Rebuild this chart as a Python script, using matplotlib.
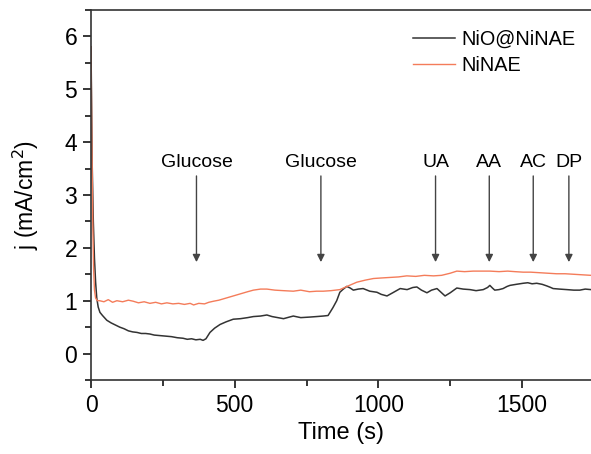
import matplotlib
matplotlib.use("Agg")
import matplotlib.pyplot as plt
from matplotlib.ticker import MultipleLocator

plt.rcParams['font.family'] = ['Liberation Sans', 'DejaVu Sans']

# amperometric response, NiO@NiNAE electrode
t_nio = [0, 4, 8, 12, 16, 20, 25, 31, 40, 55, 70, 85, 100, 115, 130, 145, 160, 175,
         190, 205, 220, 240, 260, 280, 300, 320, 335, 350, 365, 380, 390, 400, 414,
         430, 449, 470, 495, 520, 545, 565, 590, 612, 630, 650, 670, 690, 704, 730,
         760, 785, 808, 825, 842, 855, 866, 878, 890, 902, 913, 930, 947, 970, 995,
         1010, 1030, 1050, 1076, 1100, 1120, 1134, 1150, 1169, 1185, 1204, 1220,
         1232, 1250, 1273, 1295, 1319, 1340, 1365, 1380, 1388, 1397, 1405, 1420,
         1434, 1448, 1458, 1480, 1504, 1520, 1535, 1551, 1570, 1586, 1600, 1608,
         1630, 1656, 1680, 1701, 1720, 1740]
j_nio = [5.8, 3.6, 2.5, 1.8, 1.35, 1.05, 0.88, 0.78, 0.72, 0.63, 0.58, 0.54, 0.50,
         0.47, 0.43, 0.41, 0.40, 0.38, 0.38, 0.37, 0.35, 0.34, 0.33, 0.32, 0.30,
         0.29, 0.27, 0.28, 0.26, 0.27, 0.25, 0.28, 0.40, 0.48, 0.55, 0.60, 0.65,
         0.66, 0.68, 0.70, 0.71, 0.73, 0.70, 0.68, 0.66, 0.69, 0.71, 0.68, 0.69,
         0.70, 0.71, 0.72, 0.87, 1.00, 1.16, 1.22, 1.27, 1.24, 1.20, 1.22, 1.23,
         1.18, 1.16, 1.12, 1.09, 1.15, 1.23, 1.21, 1.25, 1.26, 1.20, 1.15, 1.20,
         1.23, 1.15, 1.09, 1.15, 1.24, 1.22, 1.21, 1.19, 1.21, 1.25, 1.29, 1.24,
         1.20, 1.21, 1.23, 1.27, 1.29, 1.31, 1.33, 1.34, 1.32, 1.33, 1.31, 1.28,
         1.25, 1.23, 1.22, 1.21, 1.20, 1.20, 1.22, 1.21]

# amperometric response, bare NiNAE electrode
t_ni = [0, 3, 6, 9, 12, 16, 22, 30, 45, 60, 75, 90, 110, 130, 147, 165, 185, 205,
        225, 245, 264, 285, 305, 325, 345, 357, 375, 395, 410, 426, 445, 470, 495,
        520, 545, 565, 590, 612, 640, 670, 704, 730, 760, 785, 808, 835, 866, 895,
        925, 955, 983, 1010, 1040, 1070, 1099, 1130, 1160, 1192, 1220, 1250, 1273,
        1300, 1330, 1360, 1388, 1420, 1450, 1475, 1504, 1530, 1560, 1590, 1620,
        1650, 1680, 1710, 1740]
j_ni = [5.8, 4.0, 2.5, 1.6, 1.2, 1.05, 1.0, 1.0, 0.98, 1.02, 0.97, 1.0, 0.98, 1.01,
        0.99, 0.96, 0.98, 0.95, 0.97, 0.94, 0.96, 0.94, 0.95, 0.93, 0.95, 0.92,
        0.95, 0.94, 0.97, 0.99, 1.01, 1.05, 1.09, 1.13, 1.17, 1.20, 1.22, 1.22,
        1.20, 1.19, 1.18, 1.20, 1.17, 1.18, 1.18, 1.19, 1.21, 1.28, 1.35, 1.39,
        1.42, 1.43, 1.44, 1.45, 1.47, 1.46, 1.48, 1.47, 1.48, 1.52, 1.56, 1.55,
        1.56, 1.56, 1.56, 1.55, 1.56, 1.55, 1.54, 1.54, 1.53, 1.52, 1.51, 1.51,
        1.50, 1.49, 1.48]

# injections
inj_labels = ['Glucose', 'Glucose', 'UA', 'AA', 'AC', 'DP']
inj_times = [367, 800, 1199, 1386, 1539, 1663]

fig = plt.figure(figsize=(5.91, 4.54), dpi=100)
ax = fig.add_axes([0.154, 0.163, 0.846, 0.815])

ax.plot(t_nio, j_nio, color='#333333', lw=1.1, label='NiO@NiNAE')
ax.plot(t_ni, j_ni, color='#f47c5a', lw=1.0, label='NiNAE')

for name, t in zip(inj_labels, inj_times):
    ax.annotate('', xy=(t, 1.73), xytext=(t, 3.36),
                arrowprops=dict(arrowstyle='-|>', color='#444444', lw=1.0,
                                mutation_scale=11, shrinkA=0, shrinkB=0))
    ax.text(t, 3.62, name, ha='center', va='center', fontsize=14)

ax.set_xlim(0, 1740)
ax.set_ylim(-0.5, 6.5)
ax.xaxis.set_major_locator(MultipleLocator(500))
ax.xaxis.set_minor_locator(MultipleLocator(250))
ax.yaxis.set_major_locator(MultipleLocator(1))
ax.yaxis.set_minor_locator(MultipleLocator(0.5))
ax.tick_params(which='major', direction='out', length=6, width=1.1,
               labelsize=16.5, pad=4)
ax.tick_params(which='minor', direction='out', length=4, width=1.1)
ax.spines['right'].set_visible(False)
for s in ['left', 'bottom', 'top']:
    ax.spines[s].set_linewidth(1.2)
    ax.spines[s].set_color('#333333')

ax.set_xlabel('Time (s)', fontsize=17, labelpad=4)
ax.set_ylabel('j (mA/cm$^2$)', fontsize=16.5, labelpad=17)

ax.legend(loc='upper left', bbox_to_anchor=(0.644, 0.946), frameon=False,
          fontsize=14.3, handlelength=2.1, handletextpad=0.35, labelspacing=0.33,
          borderpad=0, borderaxespad=0)

fig.savefig('out.png', dpi=100)
